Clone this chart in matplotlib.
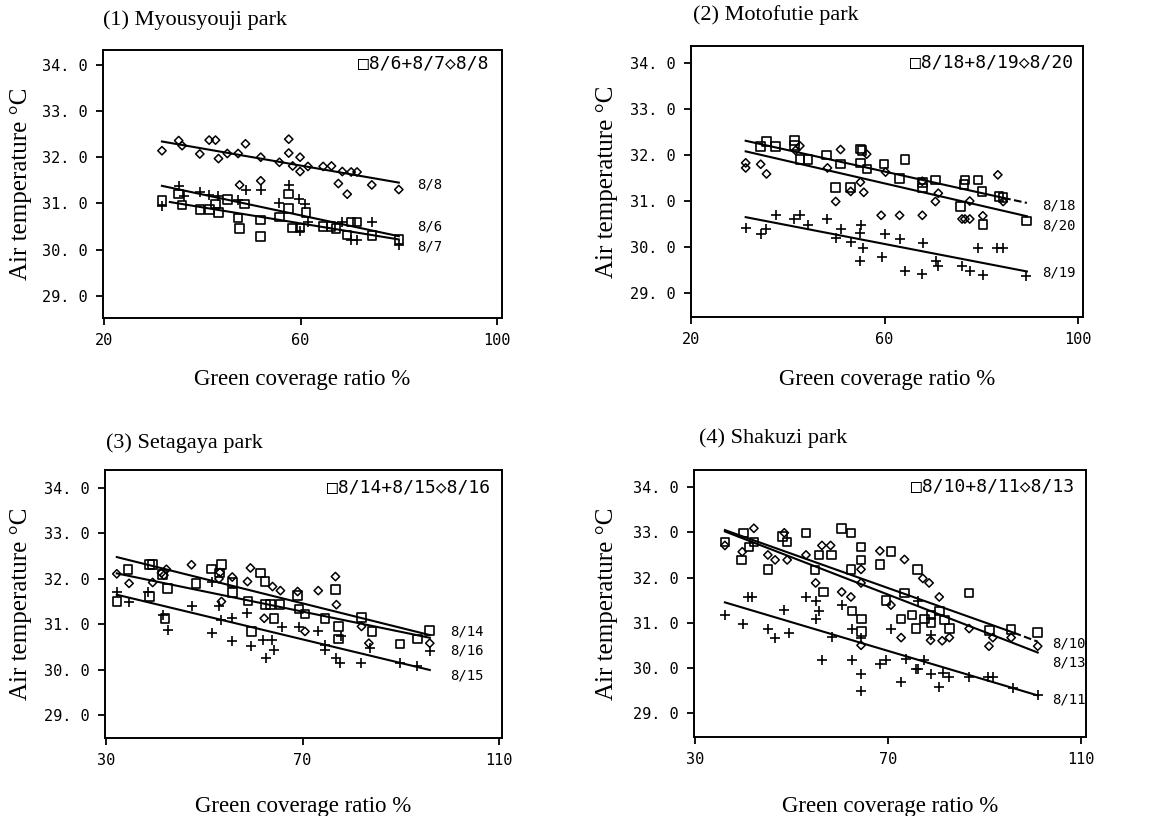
#1. Libraries
import numpy as np
import matplotlib
matplotlib.use("Agg")
import matplotlib.pyplot as plt


#2. Data
ytick_vals = [29.0, 30.0, 31.0, 32.0, 33.0, 34.0]
ytick_labels = ["29. 0", "30. 0", "31. 0", "32. 0", "33. 0", "34. 0"]

#(1) Myousyouji park
p1_title = "(1) Myousyouji park"
p1_legend = "□8/6+8/7◇8/8"
p1_xticks = [20, 60, 100]
p1_sq_x = [31.8, 35.2, 35.9, 39.5, 41.5, 42.7, 43.3, 45.1, 47.3, 47.6, 48.6, 51.9, 51.9, 55.7, 57.6,
           57.6, 58.4, 59.9, 61.1, 64.6, 66.2, 67.2, 69.5, 70.3, 71.5, 74.5, 80.0]
p1_sq_y = [31.06, 31.2, 30.97, 30.87, 30.87, 30.99, 30.8, 31.09, 30.68, 30.46, 30.99, 30.64, 30.28, 30.71, 31.2,
           30.89, 30.47, 30.47, 30.8, 30.5, 30.5, 30.46, 30.32, 30.6, 30.6, 30.3, 30.22]
p1_pl_x = [31.8, 35.2, 36.2, 39.5, 41.4, 43.3, 47.3, 48.8, 51.9, 55.7, 57.6, 59.6, 60.9, 61.6, 59.9,
           68.5, 70.3, 71.5, 74.5, 80.0]
p1_pl_y = [30.94, 31.38, 31.15, 31.24, 31.18, 31.16, 31.07, 31.29, 31.29, 31.0, 31.4, 31.09, 30.99, 30.6, 30.41,
           30.6, 30.21, 30.21, 30.6, 30.1]
p1_di_x = [31.8, 35.2, 35.9, 39.5, 41.4, 42.7, 43.3, 45.1, 47.3, 48.8, 51.9, 55.7, 57.6, 57.6, 58.4,
           59.9, 59.9, 61.5, 64.6, 66.3, 67.7, 68.5, 69.5, 70.3, 71.5, 74.5, 80.0, 47.6, 51.9]
p1_di_y = [32.14, 32.36, 32.25, 32.07, 32.37, 32.37, 31.97, 32.08, 32.08, 32.29, 32.0, 31.89, 32.39, 32.09, 31.81,
           32.0, 31.69, 31.8, 31.8, 31.81, 31.43, 31.69, 31.2, 31.68, 31.68, 31.4, 31.3, 31.4, 31.49]
#fitted lines: [x_start, x_end], [y_start, y_end]
p1_fit_x = [[31.8, 80.0], [31.8, 80.0], [33.4, 80.0]]
p1_fit_y = [[32.34, 31.45], [31.38, 30.29], [31.03, 30.22]]
p1_lab = ["8/8", "8/6", "8/7"]
p1_lab_y = [31.4, 30.5, 30.06]

#(2) Motofutie park
p2_title = "(2) Motofutie park"
p2_legend = "□8/18+8/19◇8/20"
p2_xticks = [20, 60, 100]
p2_sq_x = [34.4, 35.6, 37.5, 41.4, 41.4, 42.5, 44.2, 48.0, 50.9, 49.9, 53.0, 55.0, 55.0, 56.4, 59.9,
           63.1, 64.2, 67.8, 70.5, 75.7, 76.6, 79.3, 80.1, 80.3, 83.6, 84.5, 89.3, 76.4, 55.3, 67.8]
p2_sq_y = [32.19, 32.3, 32.19, 32.32, 32.21, 31.9, 31.9, 32.0, 31.81, 31.3, 31.3, 32.13, 31.83, 31.7, 31.81,
           31.49, 31.9, 31.28, 31.46, 30.88, 31.46, 31.46, 31.21, 30.49, 31.1, 31.08, 30.57, 31.36, 32.1, 31.4]
p2_pl_x = [31.3, 34.4, 35.6, 37.5, 41.3, 42.5, 44.2, 48.2, 49.9, 50.9, 53.0, 55.0, 55.2, 55.5, 55.0,
           59.4, 60.1, 63.1, 64.2, 67.8, 67.9, 70.7, 71.1, 75.9, 77.7, 79.3, 80.3, 83.2, 84.5, 89.3]
p2_pl_y = [30.41, 30.28, 30.39, 30.69, 30.6, 30.7, 30.49, 30.61, 30.19, 30.39, 30.1, 30.3, 30.49, 29.98, 29.69,
           29.78, 30.28, 30.18, 29.49, 29.41, 30.09, 29.7, 29.58, 29.58, 29.49, 29.98, 29.39, 29.98, 29.98, 29.38]
p2_di_x = [31.3, 31.3, 34.4, 35.6, 42.5, 48.2, 50.9, 49.9, 53.0, 55.0, 55.7, 56.3, 60.2, 59.3, 63.1,
           67.8, 67.8, 70.5, 71.1, 76.0, 76.6, 77.6, 77.6, 80.3, 83.4, 84.5, 41.6]
p2_di_y = [31.83, 31.72, 31.8, 31.59, 32.2, 31.72, 32.12, 30.99, 31.21, 31.41, 31.19, 32.02, 31.63, 30.69, 30.69,
           30.69, 31.43, 30.99, 31.17, 30.61, 30.61, 30.61, 31.0, 30.68, 31.57, 30.99, 32.1]
p2_fit_x = [[31.3, 84.5], [84.5, 89.4], [31.3, 89.4], [31.3, 89.4]]
p2_fit_y = [[32.31, 31.07], [31.07, 30.96], [32.08, 30.67], [30.65, 29.47]]
p2_fit_ls = ["-", "--", "-", "-"]
p2_lab = ["8/18", "8/20", "8/19"]
p2_lab_y = [30.9, 30.46, 29.45]

#(3) Setagaya park
p3_title = "(3) Setagaya park"
p3_legend = "□8/14+8/15◇8/16"
p3_xticks = [30, 70, 110]
p3_sq_x = [32.2, 34.5, 38.8, 39.5, 38.8, 41.5, 42.0, 42.5, 48.3, 51.5, 53.1, 53.5, 55.7, 55.7, 58.9, 59.6, 61.5,
           62.4, 62.5, 63.5, 64.2, 65.4, 69.0, 69.3, 70.5, 74.6, 76.7, 77.3, 77.3, 82.0, 84.1, 89.8, 93.4, 95.9]
p3_sq_y = [31.5, 32.2, 32.31, 32.31, 31.61, 32.09, 31.13, 31.79, 31.9, 32.22, 32.13, 32.31, 31.92, 31.7, 31.51, 30.84,
           32.13, 31.94, 31.43, 31.43, 31.13, 31.43, 31.63, 31.33, 31.22, 31.13, 31.76, 30.95, 30.67, 31.15, 30.84,
           30.56, 30.67, 30.86]
p3_pl_x = [32.2, 34.7, 38.6, 41.7, 42.7, 47.6, 51.6, 51.6, 53.1, 53.5, 55.7, 55.7, 58.8, 59.6, 62.0, 62.5,
           63.7, 64.2, 65.8, 69.3, 73.2, 74.6, 74.6, 76.9, 77.6, 77.9, 81.9, 83.7, 89.8, 93.4, 95.9]
p3_pl_y = [31.72, 31.5, 31.7, 31.21, 30.88, 31.39, 31.92, 30.8, 31.39, 31.1, 31.13, 30.62, 31.24, 30.52, 30.65, 30.25,
           30.65, 30.43, 30.93, 30.93, 30.84, 30.54, 30.42, 30.25, 30.14, 30.74, 30.14, 30.47, 30.14, 30.07, 30.4]
p3_di_x = [32.2, 34.7, 39.5, 41.3, 42.3, 47.4, 53.2, 53.5, 55.7, 58.8, 59.4, 62.2, 63.9, 65.5, 69.0, 70.5,
           73.2, 76.7, 76.9, 82.0, 83.5, 95.9, 53.0, 41.8]
p3_di_y = [32.11, 31.9, 31.92, 32.13, 32.21, 32.31, 32.14, 31.5, 32.04, 31.94, 32.24, 31.13, 31.83, 31.74, 31.72, 30.84,
           31.74, 32.05, 31.43, 30.95, 30.58, 30.58, 32.0, 32.08]
p3_fit_x = [[32.2, 95.9], [32.2, 95.9], [32.2, 95.9]]
p3_fit_y = [[32.48, 30.76], [32.12, 30.7], [31.65, 29.99]]
p3_lab = ["8/14", "8/16", "8/15"]
p3_lab_y = [30.84, 30.42, 29.86]

#(4) Shakuzi park
p4_title = "(4) Shakuzi park"
p4_legend = "□8/10+8/11◇8/13"
p4_xticks = [30, 70, 110]
p4_sq_x = [36.2, 39.6, 40.0, 41.2, 42.2, 45.1, 48.1, 49.1, 53.0, 54.9, 55.7, 56.6, 58.3, 60.4, 62.3, 62.3, 62.5,
           64.4, 64.4, 64.5, 64.5, 68.3, 69.6, 70.6, 72.7, 73.4, 75.0, 75.8, 76.1, 77.5, 78.9, 78.9, 80.6, 81.7,
           82.7, 86.8, 91.0, 95.5, 101.0]
p4_sq_y = [32.79, 32.39, 32.99, 32.68, 32.79, 32.18, 32.91, 32.79, 32.99, 32.17, 32.5, 31.68, 32.5, 33.09, 32.99,
           32.18, 31.26, 32.68, 32.39, 31.08, 30.8, 32.29, 31.49, 32.57, 31.08, 31.66, 31.17, 30.87, 32.18, 31.08,
           31.17, 31.0, 31.26, 31.06, 30.87, 31.66, 30.83, 30.85, 30.78]
p4_pl_x = [36.2, 40.0, 40.9, 41.9, 45.1, 46.6, 48.5, 49.4, 53.0, 55.0, 55.0, 55.7, 56.4, 58.4, 60.4, 62.5, 62.5,
           64.4, 64.4, 64.4, 68.3, 69.6, 70.6, 72.7, 73.7, 75.8, 76.1, 76.1, 77.5, 78.8, 78.8, 80.6, 81.3, 82.6,
           86.7, 90.6, 91.7, 95.8, 101.0]
p4_pl_y = [31.17, 30.98, 31.57, 31.57, 30.87, 30.67, 31.28, 30.78, 31.57, 31.49, 31.09, 31.26, 30.18, 30.69, 31.39,
           30.87, 30.18, 29.87, 29.49, 30.67, 30.09, 30.18, 30.87, 29.69, 30.2, 29.98, 29.98, 31.48, 30.18, 29.87,
           30.72, 29.58, 29.89, 29.8, 29.8, 29.8, 29.8, 29.56, 29.39]
p4_di_x = [36.2, 39.8, 42.2, 45.1, 46.6, 48.5, 49.1, 53.0, 55.0, 56.3, 58.1, 60.4, 62.3, 64.4, 64.4, 64.4, 68.3,
           70.6, 72.7, 73.4, 77.2, 78.5, 78.8, 80.6, 81.2, 82.7, 86.8, 90.9, 91.7, 95.5, 101.0]
p4_di_y = [32.71, 32.57, 33.09, 32.5, 32.39, 32.99, 32.39, 32.5, 31.88, 32.71, 32.71, 31.68, 31.57, 32.18, 31.88,
           30.5, 32.59, 31.39, 30.67, 32.4, 31.98, 31.88, 30.61, 31.57, 30.6, 30.67, 30.87, 30.48, 30.67, 30.67, 30.48]
p4_fit_x = [[36.2, 96.0], [96.0, 101.0], [36.2, 101.0], [36.2, 101.0]]
p4_fit_y = [[33.05, 30.78], [30.78, 30.58], [33.02, 30.34], [31.45, 29.39]]
p4_fit_ls = ["-", "--", "-", "-"]
p4_lab = ["8/10", "8/13", "8/11"]
p4_lab_y = [30.54, 30.12, 29.3]


#3. Figure and axes placement (pixels of the 1156x816 scan)
W, H = 1156, 816
fig = plt.figure(figsize=(W / 100, H / 100), dpi=100)
SERIF = "Liberation Serif"
MONO = ["DejaVu Sans Mono", "DejaVu Sans"]


def make_ax(left, top, right, bottom):
    return fig.add_axes([left / W, 1 - bottom / H, (right - left) / W, (bottom - top) / H])


def draw_panel(ax, title, legend, xticks, xlim, ylim, sq, pl, di, fit_x, fit_y, fit_ls, labs, lab_y, lab_x,
               title_pos, ylab_x, xlab_y, leg_pos):
    #scatter points, hollow like the original
    ax.scatter(sq[0], sq[1], marker="s", s=38, facecolors="none", edgecolors="black", linewidths=1.2, zorder=3)
    ax.scatter(di[0], di[1], marker="D", s=18, facecolors="none", edgecolors="black", linewidths=1.1, zorder=3)
    ax.scatter(pl[0], pl[1], marker="+", s=48, color="black", linewidths=1.2, zorder=3)

    #regression lines
    for fx, fy, ls in zip(fit_x, fit_y, fit_ls):
        ax.plot(fx, fy, color="black", lw=1.5, ls=ls, zorder=2)

    #line labels on the right
    for lab, ly in zip(labs, lab_y):
        ax.text(lab_x, ly, lab, family=MONO, fontsize=10, va="center", ha="left")

    ax.text(leg_pos[0], leg_pos[1], legend, transform=ax.transAxes, family=MONO, fontsize=13,
            ha="right", va="center")

    ax.set_xlim(*xlim)
    ax.set_ylim(*ylim)
    ax.set_xticks(xticks)
    ax.set_xticklabels([str(t) for t in xticks], family=MONO, fontsize=11)
    ax.set_yticks(ytick_vals)
    ax.set_yticklabels(ytick_labels, family=MONO, fontsize=11)
    ax.tick_params(direction="out", length=5, width=1.3, pad=6)
    for sp in ax.spines.values():
        sp.set_linewidth(1.4)

    ax.set_ylabel("Air temperature °C", family=SERIF, fontsize=18)
    ax.yaxis.set_label_coords(ylab_x, 0.5)
    ax.set_xlabel("Green coverage ratio %", family=SERIF, fontsize=16.5)
    ax.xaxis.set_label_coords(0.5, xlab_y)
    ax.text(title_pos[0], title_pos[1], title, transform=ax.transAxes, family=SERIF, fontsize=16,
            ha="left", va="center")


#4. Panels
ax1 = make_ax(103, 50, 502, 318)
draw_panel(ax1, p1_title, p1_legend, p1_xticks, (19.8, 101.0), (28.52, 34.32),
           (p1_sq_x, p1_sq_y), (p1_pl_x, p1_pl_y), (p1_di_x, p1_di_y),
           p1_fit_x, p1_fit_y, ["-"] * 3, p1_lab, p1_lab_y, 83.8,
           (0.0, 1.112), -0.178, -0.19, (0.965, 0.95))

ax2 = make_ax(691, 46, 1083, 317)
draw_panel(ax2, p2_title, p2_legend, p2_xticks, (20.0, 101.0), (28.48, 34.37),
           (p2_sq_x, p2_sq_y), (p2_pl_x, p2_pl_y), (p2_di_x, p2_di_y),
           p2_fit_x, p2_fit_y, p2_fit_ls, p2_lab, p2_lab_y, 92.5,
           (0.005, 1.114), -0.186, -0.192, (0.975, 0.94))

ax3 = make_ax(105, 470, 502, 738)
draw_panel(ax3, p3_title, p3_legend, p3_xticks, (29.8, 110.6), (28.49, 34.40),
           (p3_sq_x, p3_sq_y), (p3_pl_x, p3_pl_y), (p3_di_x, p3_di_y),
           p3_fit_x, p3_fit_y, ["-"] * 3, p3_lab, p3_lab_y, 100.0,
           (0.003, 1.10), -0.184, -0.216, (0.97, 0.935))

ax4 = make_ax(694, 470, 1086, 737)
draw_panel(ax4, p4_title, p4_legend, p4_xticks, (29.8, 111.0), (28.47, 34.38),
           (p4_sq_x, p4_sq_y), (p4_pl_x, p4_pl_y), (p4_di_x, p4_di_y),
           p4_fit_x, p4_fit_y, p4_fit_ls, p4_lab, p4_lab_y, 104.0,
           (0.013, 1.12), -0.194, -0.221, (0.97, 0.94))

plt.savefig("out.png", dpi=100)
